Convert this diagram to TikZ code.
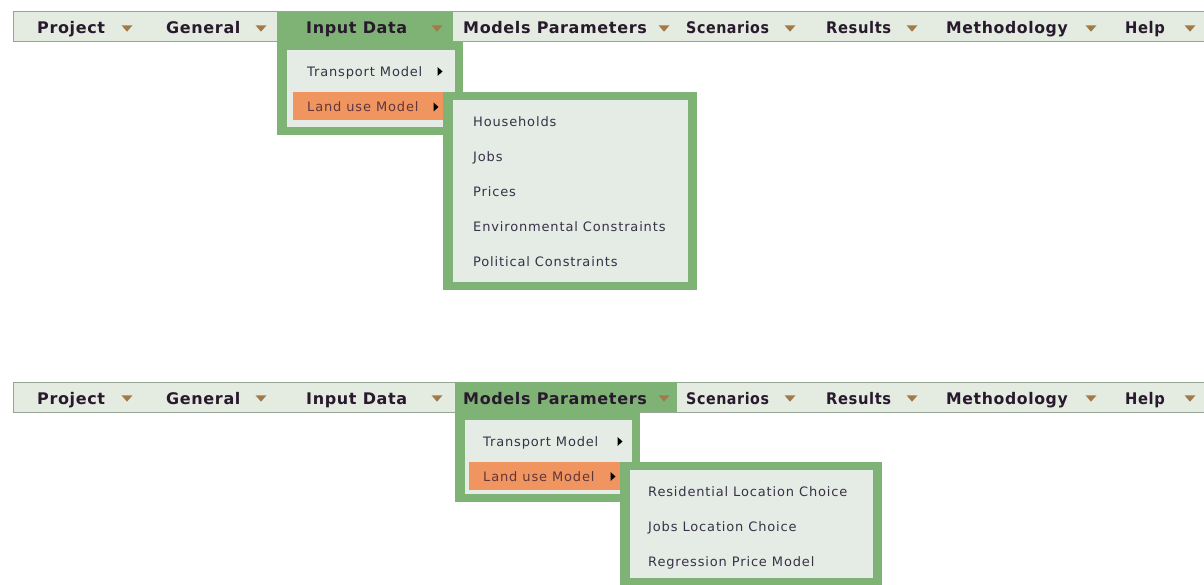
\documentclass[tikz,border=0pt]{standalone}
\usepackage{fontspec}
\setmainfont{DejaVu Sans}
\newfontfamily\barfont[LetterSpace=4]{DejaVu Sans}
\newfontfamily\itemfont[LetterSpace=6.5]{DejaVu Sans}
\definecolor{menugreen}{RGB}{127,178,117}
\definecolor{panelbg}{RGB}{229,236,229}
\definecolor{barbg}{RGB}{228,236,226}
\definecolor{barline}{RGB}{150,165,150}
\definecolor{menuorange}{RGB}{240,148,96}
\definecolor{arrowbrown}{RGB}{162,122,72}
\definecolor{bartext}{RGB}{40,25,45}
\definecolor{itemtext}{RGB}{55,50,70}
\definecolor{hottext}{RGB}{95,55,60}
\tikzset{
  bartitle/.style={anchor=base west, inner sep=0pt, text=bartext, font=\barfont\bfseries\fontsize{16}{19}\selectfont},
  menuitem/.style={anchor=base west, inner sep=0pt, text=itemtext, font=\itemfont\fontsize{13}{16}\selectfont},
  hotitem/.style={menuitem, text=hottext},
  downtri/.pic={\fill[arrowbrown] (-5.5,-3.2) -- (5.5,-3.2) -- (0,3.2) -- cycle;},
  righttri/.pic={\fill[black] (-2.5,-4.5) -- (2.5,0) -- (-2.5,4.5) -- cycle;},
}
\newcommand{\narrow}[2]{\scalebox{#1}[1]{#2}}
\begin{document}
\begin{tikzpicture}[x=1pt,y=-1pt]
\useasboundingbox[fill=white] (0,0) rectangle (1204,585);

% ---------- top menu ----------
\fill[barbg] (13,12) rectangle (1204,42);
\draw[barline, line width=1pt] (1204,12) -- (13,12) -- (13,42) -- (1204,42);
\fill[menugreen] (277,12) rectangle (453,42);
\fill[menugreen] (277,42) rectangle (463,135);
\fill[panelbg] (287,50) rectangle (455,127);
\fill[menuorange] (293,92) rectangle (445,120);
\fill[menugreen] (443,92) rectangle (697,290);
\fill[panelbg] (453,100) rectangle (688,282);

\node[bartitle] (p1) at (37,34) {Project};
\pic at (127,28.5) {downtri};
\node[bartitle] (g1) at (166,34) {General};
\pic at (261,28.5) {downtri};
\node[bartitle] (i1) at (306,34) {Input Data};
\pic at (437,28.5) {downtri};
\node[bartitle] (m1) at (463,34) {Models Parameters};
\pic at (664,28.5) {downtri};
\node[bartitle] (s1) at (686,34) {\narrow{0.89}{Scenarios}};
\pic at (790,28.5) {downtri};
\node[bartitle] (r1) at (826,34) {\narrow{0.92}{Results}};
\pic at (912,28.5) {downtri};
\node[bartitle] (me1) at (946,34) {\narrow{0.98}{Methodology}};
\pic at (1091,28.5) {downtri};
\node[bartitle] (h1) at (1125,34) {\narrow{0.92}{Help}};
\pic at (1190,28.5) {downtri};

\node[menuitem] (t1) at (307,76.5) {Transport Model};
\pic at (440,71.5) {righttri};
\node[hotitem] (l1) at (307,112) {Land use Model};
\pic at (436,107) {righttri};

\node[menuitem] (hh) at (473,126.5) {Households};
\node[menuitem] (jb) at (473,161.5) {Jobs};
\node[menuitem] (pr) at (473,196.5) {Prices};
\node[menuitem] (ec) at (473,231.5) {Environmental Constraints};
\node[menuitem] (pc) at (473,266.5) {Political Constraints};

% ---------- bottom menu ----------
\fill[barbg] (13,382) rectangle (1204,412);
\draw[barline, line width=1pt] (1204,382) -- (13,382) -- (13,412) -- (1204,412);
\fill[menugreen] (455,382) rectangle (677,412);
\fill[menugreen] (455,412) rectangle (640,502);
\fill[panelbg] (465,420) rectangle (632,494);
\fill[menuorange] (469,462) rectangle (622,490);
\fill[menugreen] (620,462) rectangle (882,590);
\fill[panelbg] (630,470) rectangle (873,578);

\node[bartitle] (p2) at (37,404) {Project};
\pic at (127,398.5) {downtri};
\node[bartitle] (g2) at (166,404) {General};
\pic at (261,398.5) {downtri};
\node[bartitle] (i2) at (306,404) {Input Data};
\pic at (437,398.5) {downtri};
\node[bartitle] (m2) at (463,404) {Models Parameters};
\pic at (664,398.5) {downtri};
\node[bartitle] (s2) at (686,404) {\narrow{0.89}{Scenarios}};
\pic at (790,398.5) {downtri};
\node[bartitle] (r2) at (826,404) {\narrow{0.92}{Results}};
\pic at (912,398.5) {downtri};
\node[bartitle] (me2) at (946,404) {\narrow{0.98}{Methodology}};
\pic at (1091,398.5) {downtri};
\node[bartitle] (h2) at (1125,404) {\narrow{0.92}{Help}};
\pic at (1190,398.5) {downtri};

\node[menuitem] (t2) at (483,446.5) {Transport Model};
\pic at (620,441.5) {righttri};
\node[hotitem] (l2) at (483,481.5) {Land use Model};
\pic at (613,476.5) {righttri};

\node[menuitem] (rl) at (648,496.5) {Residential Location Choice};
\node[menuitem] (jl) at (648,531.5) {Jobs Location Choice};
\node[menuitem] (rp) at (648,566.5) {Regression Price Model};
\end{tikzpicture}
\end{document}
